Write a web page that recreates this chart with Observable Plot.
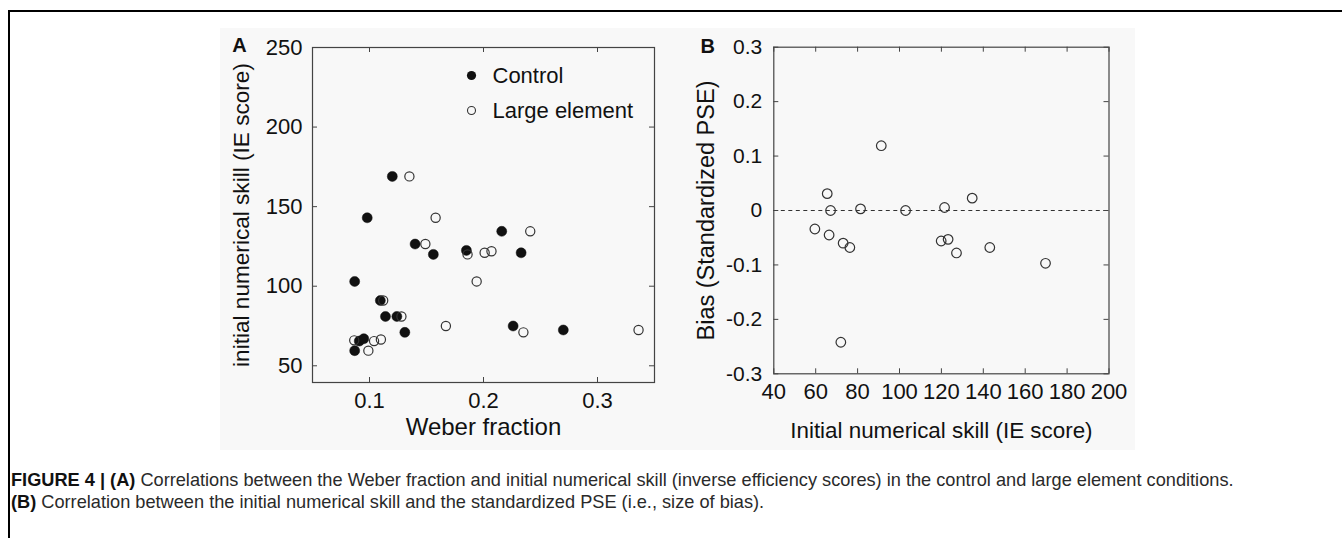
<!DOCTYPE html>
<html><head><meta charset="utf-8">
<script src="https://cdn.jsdelivr.net/npm/d3@7"></script>
<script src="https://cdn.jsdelivr.net/npm/@observablehq/plot@0.6"></script>
<style>
body{margin:0;background:#fff;font-family:"Liberation Sans",Arial,sans-serif;}
#page{position:relative;width:1342px;height:538px;overflow:hidden;}
#border{position:absolute;left:8px;top:10px;right:-10px;bottom:-10px;border-top:2px solid #000;border-left:2px solid #000;}
#figbg{position:absolute;left:220px;top:28px;width:915px;height:422px;background:#f8f8f8;}
#plotA{position:absolute;left:220px;top:0;}
#plotB{position:absolute;left:680px;top:0;}
#plotA svg,#plotB svg{overflow:visible;max-width:none;}
#caption{position:absolute;left:11px;top:469px;font-size:18.2px;line-height:22px;color:#2a2a2a;white-space:nowrap;}
#caption b{color:#111;}
</style></head>
<body>
<div id="page">
  <div id="border"></div>
  <div id="figbg"></div>
  <div id="plotA"></div>
  <div id="plotB"></div>
  <div id="caption">
    <div><b>FIGURE 4 | (A)</b> Correlations between the Weber fraction and initial numerical skill (inverse efficiency scores) in the control and large element conditions.</div>
    <div><b>(B)</b> Correlation between the initial numerical skill and the standardized PSE (i.e., size of bias).</div>
  </div>
</div>
<script>
// ---- Data ----
const controlWeber = [0.120, 0.098, 0.140, 0.156, 0.185, 0.216, 0.233, 0.087, 0.1095, 0.114, 0.124, 0.131, 0.226, 0.270, 0.091, 0.095, 0.087];
const controlIE    = [169, 143, 126.5, 120, 122.5, 134.5, 121, 103, 91, 81, 81, 71, 75, 72.5, 65.5, 67, 59.5];
const largeWeber   = [0.135, 0.158, 0.149, 0.186, 0.201, 0.207, 0.241, 0.194, 0.112, 0.128, 0.167, 0.235, 0.336, 0.0866, 0.099, 0.104, 0.110];
const largeIE      = [169, 143, 126.5, 120, 121, 122, 134.5, 103, 91, 81, 75, 71, 72.5, 66, 59.5, 65.5, 66.5];
const biasIE       = [91.3, 65.5, 67.1, 81.4, 102.9, 121.5, 134.7, 59.6, 66.4, 73.1, 76.3, 72, 119.9, 123.2, 127.2, 143.1, 169.7];
const biasPSE      = [0.119, 0.031, 0, 0.003, 0, 0.0055, 0.0227, -0.034, -0.045, -0.06, -0.068, -0.242, -0.056, -0.053, -0.078, -0.068, -0.097];

const groups = ["Control", "Large element"];
const xTicksA = [0.1, 0.2, 0.3];
const yTicksA = [50, 100, 150, 200, 250];
const xTicksB = [40, 60, 80, 100, 120, 140, 160, 180, 200];
const yTicksB = [-0.3, -0.2, -0.1, 0, 0.1, 0.2, 0.3];
const refLineB = [0];

const titlesA = {x: "Weber fraction", y: "initial numerical skill (IE score)", panel: "A"};
const titlesB = {x: "Initial numerical skill (IE score)", y: "Bias (Standardized PSE)", panel: "B"};

// ---- Layout ----
const FONT = "Liberation Sans, Arial, Helvetica, sans-serif";
const INK = "#111";
const AXIS = "#444";
const TICK = 5;

function inwardTicks(xt, yt, fw, fh) {
  return [
    Plot.tickX(xt, {x: d => d, insetTop: fh - TICK, stroke: AXIS}),
    Plot.tickX(xt, {x: d => d, insetBottom: fh - TICK, stroke: AXIS}),
    Plot.tickY(yt, {y: d => d, insetRight: fw - TICK, stroke: AXIS}),
    Plot.tickY(yt, {y: d => d, insetLeft: fw - TICK, stroke: AXIS})
  ];
}

const control = controlWeber.map((w, i) => ({w, ie: controlIE[i]}));
const large = largeWeber.map((w, i) => ({w, ie: largeIE[i]}));
const bias = biasIE.map((ie, i) => ({ie, pse: biasPSE[i]}));

// Panel A
{
  const W = 460, H = 460, mL = 92, mT = 47, mR = 26, mB = 78;
  const fw = W - mL - mR, fh = H - mT - mB;
  const plot = Plot.plot({
    width: W, height: H,
    marginLeft: mL, marginTop: mT, marginRight: mR, marginBottom: mB,
    style: {background: "transparent", fontFamily: FONT, color: INK, overflow: "visible"},
    x: {domain: [0.05, 0.35]},
    y: {domain: [39.5, 250]},
    marks: [
      Plot.frame({stroke: AXIS, strokeWidth: 1.2}),
      ...inwardTicks(xTicksA, yTicksA, fw, fh),
      Plot.axisX(xTicksA, {anchor: "bottom", tickSize: 0, tickPadding: 10, fontSize: 22, label: null, tickFormat: d => d.toFixed(1)}),
      Plot.axisY(yTicksA, {anchor: "left", tickSize: 0, tickPadding: 10, fontSize: 22, label: null, tickFormat: d => String(d)}),
      Plot.dot(control, {x: "w", y: "ie", r: 5, fill: INK, stroke: INK, strokeWidth: 0.5}),
      Plot.dot(large, {x: "w", y: "ie", r: 4.6, fill: "none", stroke: "#333", strokeWidth: 1.2}),
      // legend
      Plot.dot([groups[0]], {frameAnchor: "top-left", dx: 159, dy: 28, r: 4.6, fill: INK}),
      Plot.dot([groups[1]], {frameAnchor: "top-left", dx: 159, dy: 63, r: 4, fill: "none", stroke: "#333", strokeWidth: 1.1}),
      Plot.text([groups[0]], {frameAnchor: "top-left", dx: 180, dy: 28.5, text: d => d, fontSize: 22, textAnchor: "start", lineAnchor: "middle", fill: INK}),
      Plot.text([groups[1]], {frameAnchor: "top-left", dx: 180, dy: 63, text: d => d, fontSize: 22, textAnchor: "start", lineAnchor: "middle", fill: INK}),
      // titles
      Plot.text([titlesA.y], {frameAnchor: "left", dx: -71, rotate: -90, text: d => d, fontSize: 22.6, textAnchor: "middle", lineAnchor: "middle", fill: INK}),
      Plot.text([titlesA.x], {frameAnchor: "bottom", dy: 45, text: d => d, fontSize: 24, textAnchor: "middle", lineAnchor: "middle", fill: INK}),
      Plot.text([titlesA.panel], {frameAnchor: "top-left", dx: -73, dy: 4, text: d => d, fontSize: 20, fontWeight: "bold", textAnchor: "middle", lineAnchor: "bottom", fill: INK})
    ]
  });
  document.getElementById("plotA").append(plot);
}

// Panel B
{
  const W = 460, H = 460, mL = 93.3, mT = 46.7, mR = 31.5, mB = 86.7;
  const fw = W - mL - mR, fh = H - mT - mB;
  const plot = Plot.plot({
    width: W, height: H,
    marginLeft: mL, marginTop: mT, marginRight: mR, marginBottom: mB,
    style: {background: "transparent", fontFamily: FONT, color: INK, overflow: "visible"},
    x: {domain: [40, 200]},
    y: {domain: [-0.3, 0.3]},
    marks: [
      Plot.ruleY(refLineB, {y: d => d, stroke: "#333", strokeWidth: 1, strokeDasharray: "4,3.5"}),
      Plot.frame({stroke: AXIS, strokeWidth: 1.2}),
      ...inwardTicks(xTicksB, yTicksB, fw, fh),
      Plot.axisX(xTicksB, {anchor: "bottom", tickSize: 0, tickPadding: 9.5, fontSize: 22, label: null, tickFormat: d => String(d)}),
      Plot.axisY(yTicksB, {anchor: "left", tickSize: 0, tickPadding: 11.5, fontSize: 21, label: null, tickFormat: d => d === 0 ? "0" : d.toFixed(1)}),
      Plot.dot(bias, {x: "ie", y: "pse", r: 4.8, fill: "none", stroke: "#333", strokeWidth: 1.2}),
      Plot.text([titlesB.y], {frameAnchor: "left", dx: -67, rotate: -90, text: d => d, fontSize: 23.5, textAnchor: "middle", lineAnchor: "middle", fill: INK}),
      Plot.text([titlesB.x], {frameAnchor: "bottom", dy: 56.7, text: d => d, fontSize: 22.4, textAnchor: "middle", lineAnchor: "middle", fill: INK}),
      Plot.text([titlesB.panel], {frameAnchor: "top-left", dx: -66, dy: 6, text: d => d, fontSize: 20, fontWeight: "bold", textAnchor: "middle", lineAnchor: "bottom", fill: INK})
    ]
  });
  document.getElementById("plotB").append(plot);
}
</script>
</body></html>
